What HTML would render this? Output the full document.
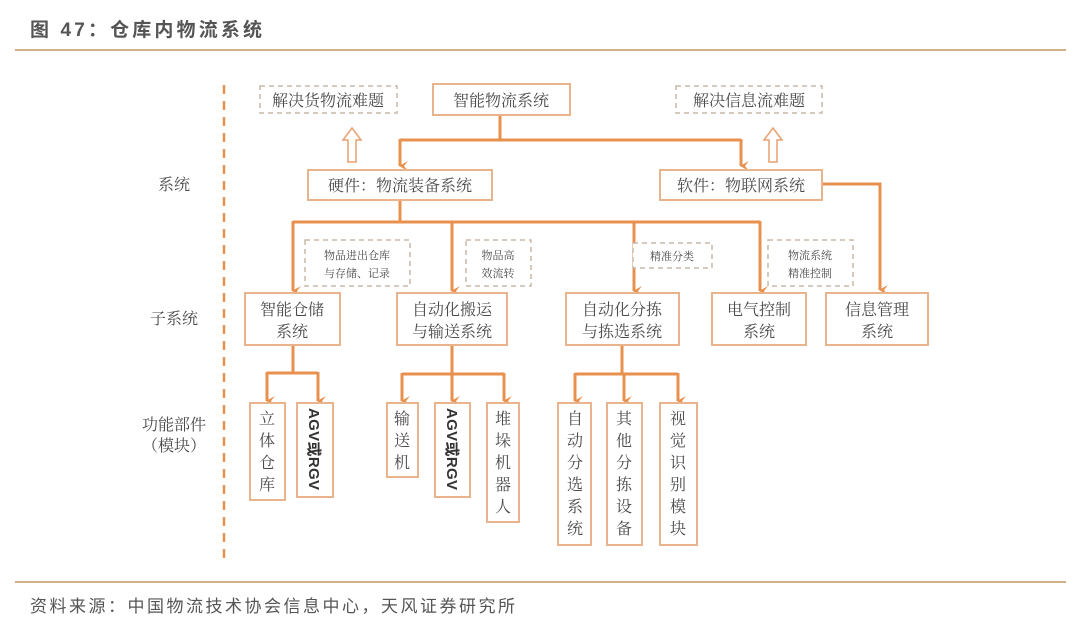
<!DOCTYPE html>
<html><head><meta charset="utf-8">
<style>
html,body{margin:0;padding:0;background:#fff;}
svg{display:block;}
.t{font-family:"Liberation Serif","Noto Serif CJK SC",serif;fill:#4a4a4a;}
.s{font-family:"Liberation Sans","Noto Sans CJK SC",sans-serif;}
</style></head><body>
<svg width="1080" height="631" viewBox="0 0 1080 631" xmlns="http://www.w3.org/2000/svg">
<defs>
<marker id="a" markerWidth="10" markerHeight="10" refX="5" refY="8" orient="auto" markerUnits="userSpaceOnUse">
<path d="M0,0 L5,9 L10,0 L5,4 Z" fill="#e8914f"/></marker>
</defs>
<!-- header -->
<text x="30" y="36" class="s" font-size="19" font-weight="bold" fill="#555" textLength="232">图 47：仓库内物流系统</text>
<line x1="15" y1="50" x2="1066" y2="50" stroke="#d2b186" stroke-width="2"/>
<line x1="15" y1="582" x2="1066" y2="582" stroke="#d2b186" stroke-width="2"/>
<text x="30" y="612" class="s" font-size="17" fill="#555" textLength="485">资料来源：中国物流技术协会信息中心，天风证券研究所</text>

<!-- left dashed divider -->
<line x1="224" y1="85" x2="224" y2="560" stroke="#e8914f" stroke-width="2.5" stroke-dasharray="9,7"/>
<text x="158" y="190" class="t" font-size="16">系统</text>
<text x="150" y="324" class="t" font-size="16">子系统</text>
<text x="142" y="430" class="t" font-size="16">功能部件</text>
<text x="142" y="451" class="t" font-size="16">（模块）</text>

<g stroke="#e8914f" stroke-width="3" fill="none">
<!-- top -->
<polyline points="500,115 500,140"/>
<polyline points="400,140 741,140"/>
<line x1="400" y1="139" x2="400" y2="166" marker-end="url(#a)"/>
<line x1="741" y1="139" x2="741" y2="166" marker-end="url(#a)"/>
<polyline points="822,184 880,184 880,290" marker-end="url(#a)"/>
<!-- hardware to subsystems -->
<polyline points="400,200 400,222"/>
<polyline points="293,222 760,222"/>
<line x1="293" y1="221" x2="293" y2="291" marker-end="url(#a)"/>
<line x1="452" y1="221" x2="452" y2="291" marker-end="url(#a)"/>
<line x1="634" y1="221" x2="634" y2="291" marker-end="url(#a)"/>
<line x1="760" y1="221" x2="760" y2="291" marker-end="url(#a)"/>
<!-- modules -->
<polyline points="293,345 293,373"/>
<polyline points="267,373 318,373"/>
<line x1="267" y1="372" x2="267" y2="401" marker-end="url(#a)"/>
<line x1="318" y1="372" x2="318" y2="401" marker-end="url(#a)"/>
<polyline points="452,345 452,374"/>
<polyline points="402,374 504,374"/>
<line x1="402" y1="373" x2="402" y2="401" marker-end="url(#a)"/>
<line x1="452" y1="373" x2="452" y2="401" marker-end="url(#a)"/>
<line x1="504" y1="373" x2="504" y2="401" marker-end="url(#a)"/>
<polyline points="622,345 622,374"/>
<polyline points="575,374 678,374"/>
<line x1="575" y1="373" x2="575" y2="401" marker-end="url(#a)"/>
<line x1="624" y1="373" x2="624" y2="401" marker-end="url(#a)"/>
<line x1="678" y1="373" x2="678" y2="401" marker-end="url(#a)"/>
</g>

<!-- hollow arrows -->
<path d="M348,162 L348,140 L343,140 L352,128 L361,140 L356,140 L356,162 Z" fill="#fff" stroke="#e8a070" stroke-width="1.5"/>
<path d="M769,162 L769,140 L764,140 L773,128 L782,140 L777,140 L777,162 Z" fill="#fff" stroke="#e8a070" stroke-width="1.5"/>

<!-- solid boxes -->
<g fill="#fff" stroke="#e9b48c" stroke-width="2">
<rect x="433" y="84" width="137" height="31"/>
<rect x="308" y="170" width="184" height="30"/>
<rect x="660" y="170" width="162" height="30"/>
<rect x="245" y="293" width="95" height="52"/>
<rect x="397" y="293" width="110" height="52"/>
<rect x="566" y="293" width="113" height="52"/>
<rect x="712" y="293" width="94" height="52"/>
<rect x="826" y="293" width="102" height="52"/>
<rect x="250" y="403" width="35" height="97"/>
<rect x="297" y="403" width="36" height="94"/>
<rect x="387" y="403" width="31" height="74"/>
<rect x="435" y="403" width="35" height="94"/>
<rect x="487" y="403" width="32" height="119"/>
<rect x="558" y="403" width="33" height="142"/>
<rect x="607" y="403" width="35" height="142"/>
<rect x="660" y="403" width="37" height="142"/>
</g>
<!-- dashed boxes -->
<g fill="#fff" stroke="#c8b8a8" stroke-width="1.5" stroke-dasharray="5,4">
<rect x="260" y="86" width="137" height="27"/>
<rect x="676" y="86" width="146" height="27"/>
<rect x="305" y="240" width="105" height="46"/>
<rect x="466" y="240" width="65" height="46"/>
<rect x="633" y="243" width="79" height="25"/>
<rect x="768" y="240" width="85" height="46"/>
</g>

<g class="t" font-size="16" text-anchor="middle">
<text x="328" y="106">解决货物流难题</text>
<text x="501" y="106">智能物流系统</text>
<text x="749" y="106">解决信息流难题</text>
<text x="400" y="191">硬件：物流装备系统</text>
<text x="741" y="191">软件：物联网系统</text>
<text x="292" y="315">智能仓储</text><text x="292" y="337">系统</text>
<text x="452" y="315">自动化搬运</text><text x="452" y="337">与输送系统</text>
<text x="622" y="315">自动化分拣</text><text x="622" y="337">与拣选系统</text>
<text x="759" y="315">电气控制</text><text x="759" y="337">系统</text>
<text x="877" y="315">信息管理</text><text x="877" y="337">系统</text>
</g>
<g class="t" font-size="11" text-anchor="middle" fill="#555">
<text x="357" y="259">物品进出仓库</text><text x="357" y="277">与存储、记录</text>
<text x="498" y="259">物品高</text><text x="498" y="277">效流转</text>
<text x="672" y="260">精准分类</text>
<text x="810" y="259">物流系统</text><text x="810" y="277">精准控制</text>
</g>
<!-- vertical texts -->
<g class="t" font-size="16" text-anchor="middle">
<text x="267" y="424">立</text><text x="267" y="446">体</text><text x="267" y="468">仓</text><text x="267" y="490">库</text>
<text x="402" y="424">输</text><text x="402" y="446">送</text><text x="402" y="468">机</text>
<text x="503" y="424">堆</text><text x="503" y="446">垛</text><text x="503" y="468">机</text><text x="503" y="490">器</text><text x="503" y="512">人</text>
<text x="575" y="424">自</text><text x="575" y="446">动</text><text x="575" y="468">分</text><text x="575" y="490">选</text><text x="575" y="512">系</text><text x="575" y="534">统</text>
<text x="624" y="424">其</text><text x="624" y="446">他</text><text x="624" y="468">分</text><text x="624" y="490">拣</text><text x="624" y="512">设</text><text x="624" y="534">备</text>
<text x="678" y="424">视</text><text x="678" y="446">觉</text><text x="678" y="468">识</text><text x="678" y="490">别</text><text x="678" y="512">模</text><text x="678" y="534">块</text>
</g>
<g class="s" font-size="15" font-weight="bold" fill="#333">
<text transform="translate(309,408) rotate(90)" textLength="82">AGV或RGV</text>
<text transform="translate(447,408) rotate(90)" textLength="82">AGV或RGV</text>
</g>
</svg>
</body></html>
